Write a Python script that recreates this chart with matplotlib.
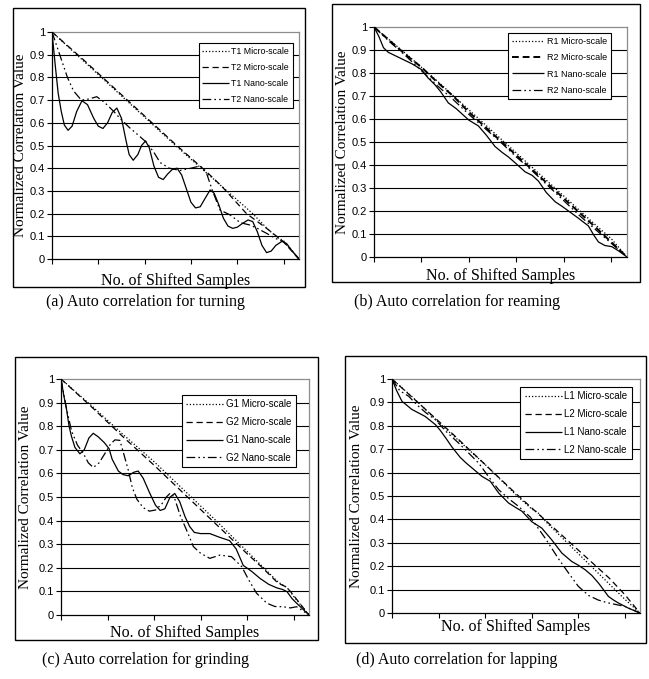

import numpy as np
import matplotlib
matplotlib.use('Agg')
import matplotlib.pyplot as plt
from matplotlib import font_manager
from matplotlib.patches import Rectangle

W, H = 649, 679

# ---- (a) turning ----
t1_micro_x = [0, 10, 20, 30, 40, 50, 60, 65, 70, 73, 75, 77, 80]
t1_micro_y = [1.0, 0.875, 0.75, 0.625, 0.5, 0.38, 0.26, 0.2, 0.13, 0.095, 0.08, 0.05, 0.0]
t2_micro_x = [0, 10, 20, 30, 40, 50, 55, 60, 63, 66, 70, 75, 80]
t2_micro_y = [1.0, 0.88, 0.755, 0.63, 0.505, 0.385, 0.32, 0.245, 0.2, 0.17, 0.13, 0.075, 0.0]
t1_nano_x = [0, 1, 2, 3, 4, 5.2, 6.5, 8, 9.7, 11.5, 13.5, 15, 16.5, 18, 19.5, 21, 22.5, 24, 25,
             26.3, 27.8, 29, 30.3, 31.5, 33, 34.5, 36, 37.5, 39, 40.5, 42, 43.5, 45, 46.5, 48,
             49.5, 51.2, 52.5, 54, 55.5, 57, 58.5, 60, 61.5, 63.5, 65, 66.5, 68, 69.5, 71, 72.5,
             74.5, 76, 77.5, 79, 80]
t1_nano_y = [1.0, 0.86, 0.73, 0.65, 0.59, 0.567, 0.585, 0.65, 0.697, 0.68, 0.62, 0.585, 0.575,
             0.6, 0.645, 0.665, 0.62, 0.52, 0.46, 0.435, 0.46, 0.5, 0.52, 0.49, 0.41, 0.36, 0.35,
             0.375, 0.395, 0.4, 0.37, 0.31, 0.25, 0.225, 0.23, 0.265, 0.304, 0.29, 0.24, 0.18,
             0.145, 0.135, 0.14, 0.155, 0.172, 0.165, 0.12, 0.06, 0.028, 0.035, 0.06, 0.078,
             0.068, 0.04, 0.015, 0.0]
t2_nano_x = [0, 2.5, 5, 7, 9.5, 12, 14.5, 17, 20, 22, 25, 28, 30.5, 33, 35, 38, 41.5, 45, 48,
             50, 52, 54.4, 57.7, 61, 64, 66.5, 69.5, 72.5, 75, 77.5, 80]
t2_nano_y = [1.0, 0.9, 0.8, 0.74, 0.7, 0.705, 0.715, 0.69, 0.65, 0.62, 0.58, 0.545, 0.515, 0.47,
             0.425, 0.4, 0.39, 0.4, 0.41, 0.38, 0.3, 0.216, 0.194, 0.16, 0.15, 0.135, 0.113, 0.09,
             0.076, 0.04, 0.0]

# ---- (b) reaming ----
r1_micro_x = [0, 10, 20, 30, 40, 50, 60, 70, 75, 80]
r1_micro_y = [1.0, 0.885, 0.765, 0.64, 0.515, 0.39, 0.265, 0.14, 0.08, 0.0]
r2_micro_x = [0, 5, 10, 15, 20, 25, 30, 40, 50, 60, 70, 80]
r2_micro_y = [1.0, 0.94, 0.88, 0.825, 0.76, 0.7, 0.63, 0.505, 0.38, 0.255, 0.13, 0.0]
r1_nano_x = [0, 1.5, 3, 4.5, 6, 9, 12, 15, 17, 19.2, 21, 23.5, 26, 28, 30, 33, 35.5, 38.3, 40.5,
             42.5, 45, 47.8, 50, 52, 54.5, 57.3, 59.5, 61.5, 64.5, 67.8, 69.5, 71, 73, 75.2,
             77.5, 80]
r1_nano_y = [1.0, 0.96, 0.91, 0.89, 0.88, 0.86, 0.84, 0.815, 0.78, 0.75, 0.72, 0.67, 0.645, 0.62,
             0.595, 0.57, 0.53, 0.48, 0.455, 0.435, 0.405, 0.37, 0.355, 0.33, 0.28, 0.24, 0.22,
             0.2, 0.17, 0.135, 0.095, 0.065, 0.05, 0.045, 0.025, 0.0]
r2_nano_x = [0, 5, 10, 15, 20, 25, 30, 35, 40, 45, 50, 55, 60, 65, 70, 75, 80]
r2_nano_y = [1.0, 0.935, 0.875, 0.81, 0.745, 0.685, 0.62, 0.56, 0.5, 0.435, 0.375, 0.31, 0.245,
             0.18, 0.12, 0.06, 0.0]

# ---- (c) grinding ----
g1_micro_x = [0, 10, 20, 30, 40, 50, 60, 65, 70, 73, 75, 80]
g1_micro_y = [1.0, 0.885, 0.765, 0.65, 0.525, 0.4, 0.27, 0.205, 0.14, 0.115, 0.08, 0.0]
g2_micro_x = [0, 10, 20, 30, 40, 50, 60, 65, 70, 72.5, 74, 77, 80]
g2_micro_y = [1.0, 0.88, 0.755, 0.635, 0.51, 0.385, 0.26, 0.2, 0.135, 0.12, 0.1, 0.05, 0.0]
g1_nano_x = [0, 0.9, 1.8, 2.6, 3.4, 4.5, 6.1, 7.5, 9, 10.4, 12, 14, 15.5, 16.5, 18.5, 20, 21.7,
             23.5, 24.9, 26.5, 28.5, 30.5, 32, 33.5, 35.2, 36.7, 38.3, 40, 41.5, 43, 45, 48, 51,
             54.4, 56.5, 58.8, 61.5, 64.2, 67, 69.6, 71.5, 72.9, 74.5, 76, 78, 80]
g1_nano_y = [1.0, 0.93, 0.87, 0.8, 0.756, 0.71, 0.683, 0.7, 0.75, 0.77, 0.755, 0.73, 0.705, 0.66,
             0.61, 0.595, 0.59, 0.605, 0.61, 0.58, 0.52, 0.465, 0.443, 0.45, 0.5, 0.515, 0.48,
             0.417, 0.375, 0.35, 0.345, 0.345, 0.33, 0.315, 0.28, 0.21, 0.185, 0.155, 0.13, 0.115,
             0.108, 0.099, 0.07, 0.05, 0.025, 0.0]
g2_nano_x = [0, 1.7, 3.4, 5.3, 7.2, 8.8, 10.4, 12.3, 14.2, 16, 17.4, 19, 20.3, 21.7, 23, 24.5,
             26.5, 28.5, 30.5, 32.5, 34, 35.2, 36.5, 38.5, 40.5, 42.7, 45, 48, 51.3, 55, 58.3,
             60.5, 63.1, 66.4, 69, 71.7, 74, 76, 78, 80]
g2_nano_y = [1.0, 0.88, 0.78, 0.72, 0.685, 0.645, 0.625, 0.645, 0.685, 0.725, 0.742, 0.74, 0.68,
             0.614, 0.54, 0.49, 0.455, 0.44, 0.445, 0.47, 0.5, 0.516, 0.5, 0.42, 0.36, 0.29,
             0.262, 0.24, 0.254, 0.247, 0.205, 0.15, 0.092, 0.05, 0.036, 0.035, 0.03, 0.035,
             0.018, 0.0]

# ---- (d) lapping ----
l1_micro_x = [0, 3, 6, 10, 15, 20, 25, 30, 35, 40, 45, 47, 50, 55, 60, 65, 70, 75, 80]
l1_micro_y = [1.0, 0.965, 0.93, 0.88, 0.815, 0.755, 0.695, 0.635, 0.57, 0.505, 0.445, 0.43,
              0.385, 0.32, 0.255, 0.19, 0.125, 0.06, 0.0]
l2_micro_x = [0, 10, 20, 30, 40, 50, 60, 65, 70, 75, 80]
l2_micro_y = [1.0, 0.88, 0.76, 0.635, 0.51, 0.39, 0.27, 0.21, 0.15, 0.08, 0.0]
l1_nano_x = [0, 1.5, 3.2, 6.4, 10.7, 14, 15.6, 17.5, 19.3, 22, 24, 25.8, 29, 31.7, 34.4, 37.6,
             40, 41.9, 45.1, 48.3, 51.5, 54.8, 58, 60, 62.3, 64.5, 66.6, 68.2, 69.8, 71.5, 73,
             76.2, 80]
l1_nano_y = [1.0, 0.95, 0.905, 0.87, 0.84, 0.805, 0.78, 0.745, 0.71, 0.665, 0.64, 0.62, 0.584,
             0.563, 0.513, 0.47, 0.45, 0.435, 0.39, 0.363, 0.313, 0.256, 0.22, 0.205, 0.185,
             0.16, 0.128, 0.1, 0.071, 0.055, 0.043, 0.021, 0.0]
l2_nano_x = [0, 2.5, 5.4, 8, 11, 14, 17.5, 21.5, 25, 28, 31, 34.4, 37.5, 40.8, 44.6, 49.4, 53.7,
             57, 60.1, 63.4, 66.6, 69.8, 75.2, 80]
l2_nano_y = [1.0, 0.95, 0.926, 0.89, 0.855, 0.826, 0.775, 0.726, 0.68, 0.64, 0.585, 0.527, 0.49,
             0.456, 0.41, 0.32, 0.232, 0.17, 0.114, 0.075, 0.055, 0.043, 0.028, 0.0]

captions = ['(a) Auto correlation for turning', '(b) Auto correlation for reaming',
            '(c) Auto correlation for grinding', '(d) Auto correlation for lapping']
x_ticks = [0, 15, 30, 45, 60, 75]
y_ticks = [0, 0.1, 0.2, 0.3, 0.4, 0.5, 0.6, 0.7, 0.8, 0.9, 1.0]


def has_font(name):
    try:
        font_manager.findfont(name, fallback_to_default=False)
        return True
    except ValueError:
        return False


SERIF = 'Liberation Serif'
SANS = 'Liberation Sans'
NARROW = 'Liberation Sans Narrow' if has_font('Liberation Sans Narrow') else SANS

# line styles: micro1 dotted, micro2 dashed, nano1 solid, nano2 dash-dot-dot
STYLES = [dict(ls=(0, (1, 1.6)), lw=0.9),
          dict(ls=(0, (5, 3)), lw=0.9),
          dict(ls='-', lw=0.9),
          dict(ls=(0, (7, 2.5, 1.3, 2.5, 1.3, 2.5)), lw=0.9)]


def px_rect(l, t, r, b):
    return [l / W, 1 - b / H, (r - l) / W, (b - t) / H]


def draw_panel(fig, axes_px, frame_px, series, names, leg_px, leg_font, leg_size, leg_hl,
               ylab_x, xlab_y, cap_xy, caption, style_over=None):
    # outer chart frame
    l, t, r, b = frame_px
    fig.patches.append(Rectangle((l / W, 1 - b / H), (r - l) / W, (b - t) / H,
                                 transform=fig.transFigure, fill=False, ec='black', lw=1.0))
    ax = fig.add_axes(px_rect(*axes_px))
    for yv in y_ticks[1:-1]:
        ax.axhline(yv, color='black', lw=0.8, zorder=1)
    handles = []
    for i, (xs, ys) in enumerate(series):
        st = dict(STYLES[i])
        if style_over and i in style_over:
            st.update(style_over[i])
        h, = ax.plot(xs, ys, color='black', zorder=3, solid_capstyle='butt', **st)
        handles.append(h)
    ax.set_xlim(0, 80)
    ax.set_ylim(0, 1)
    ax.set_xticks(x_ticks)
    ax.set_xticklabels([])
    ax.set_yticks(y_ticks)
    ax.set_yticklabels(['%g' % v for v in y_ticks], family=SANS, fontsize=8)
    ax.tick_params(axis='both', direction='out', length=3.5, width=0.8, color='black', pad=1.5)
    for s in ['left', 'bottom']:
        ax.spines[s].set_color('black')
        ax.spines[s].set_linewidth(0.9)
    for s in ['top', 'right']:
        ax.spines[s].set_color('#8c8c8c')
        ax.spines[s].set_linewidth(0.9)

    # legend box
    al, at, ar, ab = axes_px
    ll, lt, lr, lb = leg_px
    anchor = ((lr - al) / (ar - al), (ab - lt) / (ab - at))
    leg = ax.legend(handles, names, loc='upper right', bbox_to_anchor=anchor, borderaxespad=0,
                    fancybox=False, framealpha=1, edgecolor='black', handlelength=leg_hl,
                    handletextpad=0.3, labelspacing=0.8, borderpad=0.45,
                    prop=dict(family=leg_font, size=leg_size))
    leg.get_frame().set_linewidth(0.8)
    leg.set_zorder(5)

    cy = (at + ab) / 2
    fig.text(ylab_x / W, 1 - cy / H, 'Normalized Correlation Value', rotation=90,
             ha='center', va='center', family=SERIF, fontsize=11)
    fig.text((al + ar) / 2 / W, 1 - xlab_y / H, 'No. of Shifted Samples',
             ha='center', va='center', family=SERIF, fontsize=11.5)
    fig.text(cap_xy[0] / W, 1 - cap_xy[1] / H, caption, ha='center', va='center',
             family=SERIF, fontsize=11.5)
    return ax


fig = plt.figure(figsize=(W / 100, H / 100), dpi=100)
fig.patch.set_facecolor('white')

draw_panel(fig, (52, 32, 299, 259), (13, 8, 305, 287),
           [(t1_micro_x, t1_micro_y), (t2_micro_x, t2_micro_y),
            (t1_nano_x, t1_nano_y), (t2_nano_x, t2_nano_y)],
           ['T1 Micro-scale', 'T2 Micro-scale', 'T1 Nano-scale', 'T2 Nano-scale'],
           (207, 43, 293, 116), NARROW, 6.3, 3.0, 21, 281, (145, 302), captions[0])

draw_panel(fig, (374, 27, 627, 257), (332, 4, 640, 282),
           [(r1_micro_x, r1_micro_y), (r2_micro_x, r2_micro_y),
            (r1_nano_x, r1_nano_y), (r2_nano_x, r2_nano_y)],
           ['R1 Micro-scale', 'R2 Micro-scale', 'R1 Nano-scale', 'R2 Nano-scale'],
           (518, 33, 611, 111), NARROW, 6.5, 3.6, 342, 276, (457, 302), captions[1],
           style_over={1: dict(lw=1.4, ls=(0, (3.5, 2)))})

draw_panel(fig, (61, 379, 309, 615), (15, 357, 318, 640),
           [(g1_micro_x, g1_micro_y), (g2_micro_x, g2_micro_y),
            (g1_nano_x, g1_nano_y), (g2_nano_x, g2_nano_y)],
           ['G1 Micro-scale', 'G2 Micro-scale', 'G1 Nano-scale', 'G2 Nano-scale'],
           (186, 395, 296, 472), SANS, 7, 3.8, 26, 633, (145, 660), captions[2])

draw_panel(fig, (392, 379, 640, 613), (345, 356, 646, 643),
           [(l1_micro_x, l1_micro_y), (l2_micro_x, l2_micro_y),
            (l1_nano_x, l1_nano_y), (l2_nano_x, l2_nano_y)],
           ['L1 Micro-scale', 'L2 Micro-scale', 'L1 Nano-scale', 'L2 Nano-scale'],
           (519, 387, 632, 464), SANS, 7, 3.8, 356, 627, (457, 660), captions[3])

fig.savefig('out.png', dpi=100, facecolor='white')
